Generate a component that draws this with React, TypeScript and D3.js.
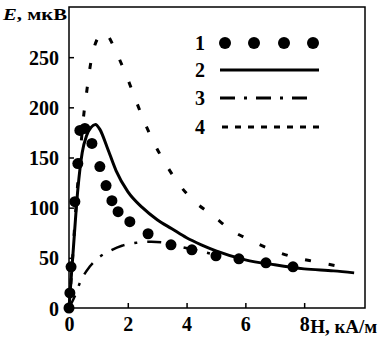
import * as d3 from 'd3';
import React, { useEffect, useRef } from 'react';

// series 1: measured points (dots)
const dotsX = [0, 0.03, 0.07, 0.2, 0.3, 0.37, 0.54, 0.78, 1.05, 1.26, 1.46, 1.67, 2.07, 2.69, 3.47, 4.18, 5.0, 5.78, 6.7, 7.62];
const dotsY = [0, 15, 41, 106, 144, 177, 179, 164, 141, 122, 107, 96, 86, 74, 63, 58, 52, 49, 45, 41];

// series 2: solid
const solidX = [0, 0.15, 0.3, 0.45, 0.6, 0.75, 0.9, 1.05, 1.3, 1.6, 2.0, 2.5, 3.0, 3.5, 4.0, 4.5, 5.0, 6.0, 7.0, 8.0, 9.0, 9.7];
const solidY = [0, 60, 118, 155, 172, 180, 183, 178, 160, 137, 116, 100, 88, 79, 70, 63, 57, 48, 43, 39, 37, 35];

// series 3: dash-dot
const dashDotX = [0, 0.2, 0.4, 0.7, 1.0, 1.4, 1.8, 2.3, 2.8, 3.3, 3.8, 4.4, 5.0];
const dashDotY = [0, 12, 27, 41, 50, 57, 62, 65, 66, 65, 61, 57, 53];

// series 4: dashed
const dashedX = [0, 0.1, 0.2, 0.3, 0.4, 0.5, 0.6, 0.7, 0.85, 1.0, 1.15, 1.3, 1.5, 1.7, 2.0, 2.3, 2.6, 2.9, 3.3, 3.7, 4.2, 4.9, 5.5, 6.2, 6.9, 7.6, 8.4, 9.1, 9.6];
const dashedY = [0, 40, 85, 125, 160, 192, 215, 237, 259, 270, 274, 272, 262, 249, 228, 205, 183, 164, 143, 125, 108, 92, 78, 67, 58, 51, 46, 42, 39];

const xTicks = [0, 2, 4, 6, 8];
const yTicks = [0, 50, 100, 150, 200, 250];
const legendLabels = ['1', '2', '3', '4'];

const FONT = '"Liberation Serif", "Times New Roman", serif';

export default () => {
    const ref = useRef<any>();

    useEffect(() => {
        const svg = d3.select<any, any>(ref.current);
        svg.selectAll('*').remove();

        const x = d3.scaleLinear().domain([0, 10.07]).range([69, 365]);
        const y = d3.scaleLinear().domain([0, 300]).range([308, 7]);

        const zip = (xs: number[], ys: number[]) => xs.map((v, i) => [v, ys[i]]);
        const line = d3.line()
            .x((d: any) => x(d[0]))
            .y((d: any) => y(d[1]))
            .curve(d3.curveMonotoneX);

        // frame
        svg.append('rect')
            .attr('x', x(0)).attr('y', y(300))
            .attr('width', x(10.07) - x(0)).attr('height', y(0) - y(300))
            .attr('fill', 'none').attr('stroke', '#000').attr('stroke-width', 1.5);

        // axes (ticks inside)
        const axisB = d3.axisBottom(x).tickValues(xTicks).tickSize(-5).tickPadding(10)
            .tickFormat((d: any) => String(d));
        const gx = svg.append('g').attr('transform', `translate(0,${y(0)})`).call(axisB as any);
        const axisL = d3.axisLeft(y).tickValues(yTicks).tickSize(-5).tickPadding(10)
            .tickFormat((d: any) => String(d));
        const gy = svg.append('g').attr('transform', `translate(${x(0)},0)`).call(axisL as any);

        [gx, gy].forEach(g => {
            g.select('.domain').remove();
            g.selectAll('line').attr('stroke', '#000').attr('stroke-width', 1.5);
            g.selectAll('text')
                .attr('font-family', FONT).attr('font-weight', 'bold')
                .attr('font-size', 20).attr('fill', '#000');
        });
        gx.selectAll('text').attr('dy', '0.71em').attr('y', 9);
        gy.selectAll('text').attr('x', -10).attr('dy', '0.35em');

        // axis titles
        svg.append('text')
            .attr('x', x(8) + 6).attr('y', 333)
            .attr('font-family', FONT).attr('font-weight', 'bold').attr('font-size', 19)
            .text('H, кА/м');

        const yt = svg.append('text')
            .attr('x', 3).attr('y', 20)
            .attr('font-family', FONT).attr('font-weight', 'bold').attr('font-size', 17)
            .attr('textLength', 64).attr('lengthAdjust', 'spacingAndGlyphs');
        yt.append('tspan').attr('font-style', 'italic').text('E');
        yt.append('tspan').text(', мкВ');

        const plot = svg.append('g');

        // series 4 dashed
        plot.append('path')
            .datum(zip(dashedX, dashedY))
            .attr('fill', 'none').attr('stroke', '#000').attr('stroke-width', 3)
            .attr('stroke-dasharray', '6 18')
            .attr('d', line as any);

        // series 3 dash-dot
        plot.append('path')
            .datum(zip(dashDotX, dashDotY))
            .attr('fill', 'none').attr('stroke', '#000').attr('stroke-width', 2.5)
            .attr('stroke-dasharray', '14 10 3 10')
            .attr('d', line as any);

        // series 2 solid
        plot.append('path')
            .datum(zip(solidX, solidY))
            .attr('fill', 'none').attr('stroke', '#000').attr('stroke-width', 3)
            .attr('d', line as any);

        // series 1 dots
        plot.selectAll('circle.dot')
            .data(zip(dotsX, dotsY))
            .join('circle')
            .attr('class', 'dot')
            .attr('cx', (d: any) => x(d[0]))
            .attr('cy', (d: any) => y(d[1]))
            .attr('r', 5.5)
            .attr('fill', '#000');

        // legend
        const lg = svg.append('g');
        const rowY = [43, 70, 98, 127];
        legendLabels.forEach((lab, i) => {
            lg.append('text')
                .attr('x', 195).attr('y', rowY[i] + 7)
                .attr('font-family', FONT).attr('font-weight', 'bold').attr('font-size', 20)
                .text(lab);
        });
        [225, 254, 284, 313].forEach(cx => {
            lg.append('circle').attr('cx', cx).attr('cy', rowY[0]).attr('r', 6).attr('fill', '#000');
        });
        lg.append('line').attr('x1', 220).attr('x2', 319).attr('y1', rowY[1]).attr('y2', rowY[1])
            .attr('stroke', '#000').attr('stroke-width', 3);
        lg.append('line').attr('x1', 220).attr('x2', 315).attr('y1', rowY[2]).attr('y2', rowY[2])
            .attr('stroke', '#000').attr('stroke-width', 3).attr('stroke-dasharray', '15 9 3 9');
        lg.append('line').attr('x1', 222).attr('x2', 322).attr('y1', rowY[3]).attr('y2', rowY[3])
            .attr('stroke', '#000').attr('stroke-width', 3).attr('stroke-dasharray', '6 7');
    });

    return (
        <svg ref={ref} width={385} height={339}
            style={{ position: 'absolute', left: 0, top: 0, background: '#fff' }}></svg>
    );
};
